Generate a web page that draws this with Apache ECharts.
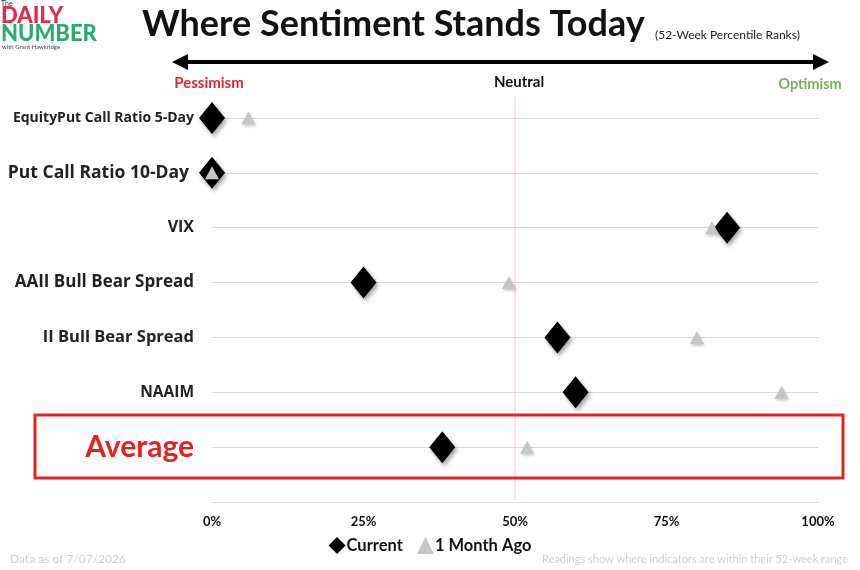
<!DOCTYPE html>
<html>
<head>
<meta charset="utf-8">
<script src="https://cdn.jsdelivr.net/npm/echarts@6/dist/echarts.min.js"></script>
<style>
  html, body { margin: 0; padding: 0; background: #fff; }
  #main { width: 860px; height: 570px; }
</style>
</head>
<body>
<div id="main"></div>
<script type="text/javascript">
// indicators, top to bottom (last blank slot is the bottom gridline)
var indicators = ['EquityPut Call Ratio 5-Day', 'Put Call Ratio 10-Day', 'VIX', 'AAII Bull Bear Spread', 'II Bull Bear Spread', 'NAAIM', 'Average', ''];
// 52-week percentile ranks, %
var currentVals = [0, 0, 85, 25, 57, 60, 38];
var monthAgoVals = [6, 0, 82.5, 49, 80, 94, 52];
var xTicks = [0, 25, 50, 75, 100];
var neutralLevel = 50;

var font = 'Lato, "Open Sans", sans-serif';
var labelFont = '"Open Sans", Lato, sans-serif';
var myChart = echarts.init(document.getElementById('main'));

function toPoints(vals) {
    var out = [];
    for (var i = 0; i < vals.length; i++) out.push([vals[i], indicators[i]]);
    return out;
}

// label size per row
var labelStyle = {
    'EquityPut Call Ratio 5-Day': 'sm',
    'Put Call Ratio 10-Day': 'pc',
    'AAII Bull Bear Spread': 'aa',
    'II Bull Bear Spread': 'lg',
    'NAAIM': 'xs',
    'Average': 'avg'
};

var option = {
    backgroundColor: '#fff',
    textStyle: { fontFamily: font },
    animation: false,
    grid: { left: 212, right: 42, top: 118, bottom: 68 },
    xAxis: {
        type: 'value',
        min: 0, max: 100, interval: 25,
        axisLine: { show: false },
        axisTick: { show: false },
        splitLine: { show: false },
        axisLabel: {
            margin: 13,
            formatter: function (v) { return xTicks.indexOf(v) >= 0 ? v + '%' : ''; },
            color: '#111', fontSize: 13, fontWeight: 'bold', fontFamily: font
        }
    },
    yAxis: {
        type: 'category',
        data: indicators,
        inverse: true,
        boundaryGap: false,
        axisLine: { show: false },
        axisTick: { show: false },
        splitLine: { show: true, lineStyle: { color: '#d9d9d9', width: 1 } },
        axisLabel: {
            margin: 18,
            formatter: function (v) {
                var k = labelStyle[v] || 'md';
                return '{' + k + '|' + v + '}';
            },
            rich: {
                xs: { fontSize: 15.5, fontWeight: 'bold', color: '#222', fontFamily: labelFont },
                sm: { fontSize: 14, fontWeight: 'bold', color: '#222', fontFamily: labelFont },
                md: { fontSize: 16, fontWeight: 'bold', color: '#222', fontFamily: labelFont },
                aa: { fontSize: 17, fontWeight: 'bold', color: '#222', fontFamily: labelFont },
                pc: { fontSize: 17.5, fontWeight: 'bold', color: '#222', fontFamily: labelFont, padding: [0, 5, 0, 0] },
                lg: { fontSize: 16.5, fontWeight: 'bold', color: '#222', fontFamily: labelFont },
                avg: { fontSize: 30, fontWeight: 'bold', color: '#e32222', fontFamily: font }
            }
        }
    },
    legend: {
        bottom: 11,
        left: 'center',
        itemGap: 14,
        itemWidth: 17,
        itemHeight: 17,
        textStyle: { fontSize: 16.5, fontWeight: 'bold', color: '#111', fontFamily: font, padding: [0, 0, 0, -4] },
        data: [
            { name: 'Current', icon: 'diamond', itemStyle: { color: '#000' } },
            { name: '1 Month Ago', icon: 'triangle', itemStyle: { color: '#c6c6c6' } }
        ]
    },
    series: [
        {
            name: 'Current',
            type: 'scatter',
            symbol: 'diamond',
            symbolSize: [26, 32],
            data: toPoints(currentVals),
            itemStyle: {
                color: '#000', opacity: 1,
                shadowBlur: 4, shadowOffsetX: 2, shadowOffsetY: 3,
                shadowColor: 'rgba(0,0,0,0.35)'
            },
            z: 3
        },
        {
            name: '1 Month Ago',
            type: 'scatter',
            symbol: 'triangle',
            symbolSize: [14, 13],
            data: toPoints(monthAgoVals),
            itemStyle: {
                color: '#c6c6c6', opacity: 1,
                shadowBlur: 3, shadowOffsetX: 1, shadowOffsetY: 2,
                shadowColor: 'rgba(0,0,0,0.2)'
            },
            z: 4
        }
    ],
    graphic: [
        // logo
        { type: 'text', left: 1, top: 0, style: { text: 'The', fontSize: 7, fill: '#333', fontFamily: font } },
        { type: 'text', left: 1, top: 5, style: { text: 'DAILY', fontSize: 22, fontWeight: 900, fill: '#e42a4a', fontFamily: font } },
        { type: 'text', left: 1, top: 23, style: { text: 'NUMBER', fontSize: 22, fontWeight: 900, fill: '#2bac6e', fontFamily: font } },
        { type: 'text', left: 2, top: 44, style: { text: 'with Grant Hawkridge', fontSize: 6, fill: '#444', fontFamily: font } },
        // title
        { type: 'text', left: 142, top: 6, style: { text: 'Where Sentiment Stands Today', fontSize: 36, fontWeight: 'bold', fill: '#111', fontFamily: font } },
        { type: 'text', left: 655, top: 29, style: { text: '(52-Week Percentile Ranks)', fontSize: 12, fill: '#222', fontFamily: font } },
        // double arrow
        { type: 'line', shape: { x1: 182, y1: 62, x2: 818, y2: 62 }, style: { stroke: '#000', lineWidth: 4 } },
        { type: 'polygon', shape: { points: [[172, 62], [188, 54], [188, 70]] }, style: { fill: '#000' } },
        { type: 'polygon', shape: { points: [[829, 62], [813, 54], [813, 70]] }, style: { fill: '#000' } },
        { type: 'text', x: 209, y: 83, style: { text: 'Pessimism', fontSize: 15, fontWeight: 'bold', fill: '#e3262b', fontFamily: font, align: 'center', verticalAlign: 'middle' } },
        { type: 'text', x: 519, y: 82, style: { text: 'Neutral', fontSize: 15, fontWeight: 'bold', fill: '#111', fontFamily: font, align: 'center', verticalAlign: 'middle' } },
        { type: 'text', x: 810, y: 84, style: { text: 'Optimism', fontSize: 14.5, fontWeight: 'bold', fill: '#76b257', fontFamily: font, align: 'center', verticalAlign: 'middle' } },
        // highlight box round the average row
        { type: 'rect', shape: { x: 35, y: 415, width: 808, height: 63 }, style: { fill: 'none', stroke: '#e52421', lineWidth: 3 }, z: 10 },
        // footer
        { type: 'text', left: 10, top: 553, style: { text: 'Data as of 7/07/2026', fontSize: 12, fill: '#cfcfcf', fontFamily: font } },
        { type: 'text', right: 12, top: 554, style: { text: 'Readings show where indicators are within their 52-week range', fontSize: 11, fill: '#cfcfcf', fontFamily: font } }
    ]
};

myChart.setOption(option);

// neutral guide line, placed through the x axis scale
var nx = myChart.convertToPixel({ xAxisIndex: 0 }, neutralLevel);
myChart.setOption({
    graphic: option.graphic.concat([
        { type: 'line', shape: { x1: nx, y1: 97, x2: nx, y2: 500 }, style: { stroke: '#f5c9c9', lineWidth: 1 }, z: 1 }
    ])
});
</script>
</body>
</html>
